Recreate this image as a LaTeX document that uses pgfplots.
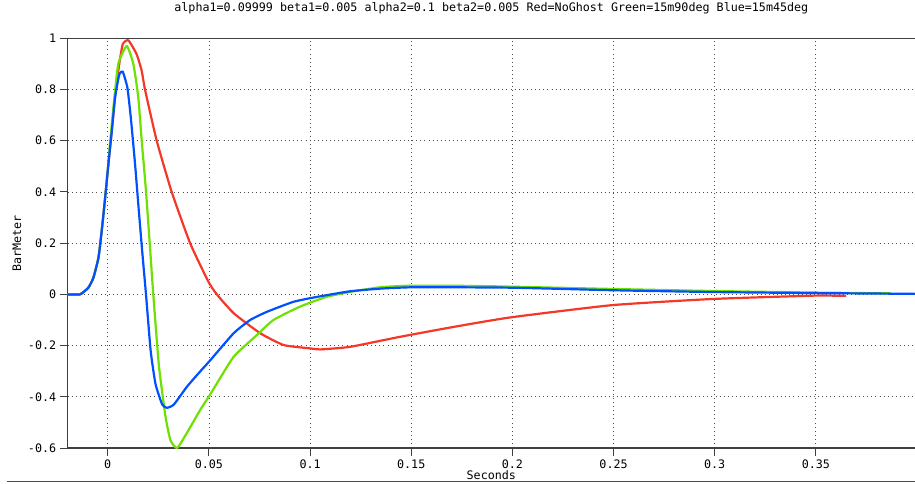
\documentclass[border=0pt]{standalone}
\usepackage{pgfplots}
\pgfplotsset{compat=1.18}
\usepackage{fontspec}
\setmainfont{DejaVu Sans Mono}
\definecolor{cred}{RGB}{245,55,40}
\definecolor{cgreen}{RGB}{110,225,0}
\definecolor{cblue}{RGB}{0,80,255}
\begin{document}
\begin{tikzpicture}
\path[use as bounding box] (0,0) rectangle (915pt,483pt);
\begin{axis}[
  at={(67.7pt,35pt)}, anchor=south west,
  width=847.3pt, height=409.7pt, scale only axis,
  xmin=-0.0198, xmax=0.399, ymin=-0.6, ymax=1,
  axis x line*=box, axis y line*=left,
  axis line style={black!75, line width=1.1pt},
  xtick={0,0.05,0.1,0.15,0.2,0.25,0.3,0.35},
  xticklabels={0,0.05,0.1,0.15,0.2,0.25,0.3,0.35},
  ytick={-0.6,-0.4,-0.2,0,0.2,0.4,0.6,0.8,1},
  yticklabels={-0.6,-0.4,-0.2,0,0.2,0.4,0.6,0.8,1},
  xtick pos=bottom, ytick pos=left,
  tick align=outside, major tick length=8pt,
  tick style={black!75, line width=1pt},
  ticklabel style={font=\fontsize{11.7}{13}\selectfont},
  /pgf/number format/assume math mode=true,
  grid=major,
  major grid style={black!70, line width=0.8pt, dash pattern=on 0.9pt off 3.2pt},
  title={alpha1=0.09999 beta1=0.005 alpha2=0.1 beta2=0.005 Red=NoGhost Green=15m90deg Blue=15m45deg},
  title style={at={(axis description cs:0.5,1)}, yshift=24pt, anchor=center, font=\fontsize{11.7}{13}\selectfont},
  xlabel={Seconds},
  xlabel style={at={(axis description cs:0.5,0)}, yshift=-27pt, anchor=center, font=\fontsize{11.7}{13}\selectfont},
  ylabel={BarMeter},
  ylabel style={at={(axis description cs:-0.0598,0.5)}, anchor=center, font=\fontsize{11.7}{13}\selectfont},
  every axis plot/.append style={line width=2.2pt, line join=round, smooth, tension=0.3},
]
\addplot[cred] coordinates {
(-0.0198,0) (-0.0137,0) (-0.0096,0.026) (-0.0071,0.065) (-0.0046,0.143) (-0.003,0.247) (-0.0013,0.377) (0.0003,0.508) (0.002,0.64) (0.0036,0.77) (0.0055,0.89) (0.0074,0.977) (0.0102,0.992) (0.0143,0.9375) (0.0168,0.872) (0.0184,0.80) (0.0242,0.60) (0.0316,0.40) (0.0407,0.20) (0.0497,0.05) (0.0539,0.0) (0.0623,-0.074) (0.0754,-0.152) (0.087,-0.198) (0.1,-0.211) (0.105,-0.215) (0.1197,-0.205) (0.1443,-0.166) (0.171,-0.127) (0.199,-0.09) (0.2494,-0.042) (0.299,-0.018) (0.349,-0.005) (0.365,-0.006)
};
\addplot[cgreen] coordinates {
(-0.0198,0) (-0.0137,0) (-0.0096,0.026) (-0.0071,0.065) (-0.0046,0.143) (-0.003,0.247) (-0.0013,0.377) (0.0003,0.508) (0.001,0.58) (0.0028,0.73) (0.0052,0.90) (0.0094,0.97) (0.0127,0.898) (0.0151,0.768) (0.0168,0.599) (0.0189,0.403) (0.0209,0.182) (0.0225,0.0) (0.0253,-0.28) (0.0286,-0.48) (0.031,-0.57) (0.0343,-0.60) (0.0392,-0.54) (0.0458,-0.45) (0.0507,-0.39) (0.0622,-0.244) (0.0737,-0.159) (0.0819,-0.10) (0.095,-0.048) (0.108,-0.01) (0.12,0.01) (0.135,0.028) (0.15,0.034) (0.18,0.033) (0.2,0.03) (0.25,0.021) (0.3,0.013) (0.35,0.007) (0.387,0.004)
};
\addplot[cblue] coordinates {
(-0.0198,0) (-0.0137,0) (-0.0096,0.026) (-0.0071,0.065) (-0.0046,0.143) (-0.003,0.247) (-0.0013,0.377) (0.0003,0.508) (0.002,0.638) (0.0036,0.768) (0.0057,0.859) (0.0074,0.870) (0.0097,0.807) (0.0114,0.69) (0.0135,0.508) (0.0155,0.3125) (0.0173,0.143) (0.0189,0.0) (0.0212,-0.22) (0.0236,-0.35) (0.0269,-0.43) (0.0293,-0.443) (0.0327,-0.43) (0.0392,-0.36) (0.0458,-0.30) (0.0507,-0.257) (0.0622,-0.152) (0.0704,-0.10) (0.0787,-0.068) (0.0918,-0.029) (0.1033,-0.01) (0.1197,0.012) (0.136,0.023) (0.153,0.028) (0.2,0.026) (0.25,0.016) (0.3,0.009) (0.35,0.005) (0.399,0.002)
};
\end{axis}
\draw[black!70, line width=1pt] (7pt,2pt) -- (915pt,2pt);
\end{tikzpicture}
\end{document}
